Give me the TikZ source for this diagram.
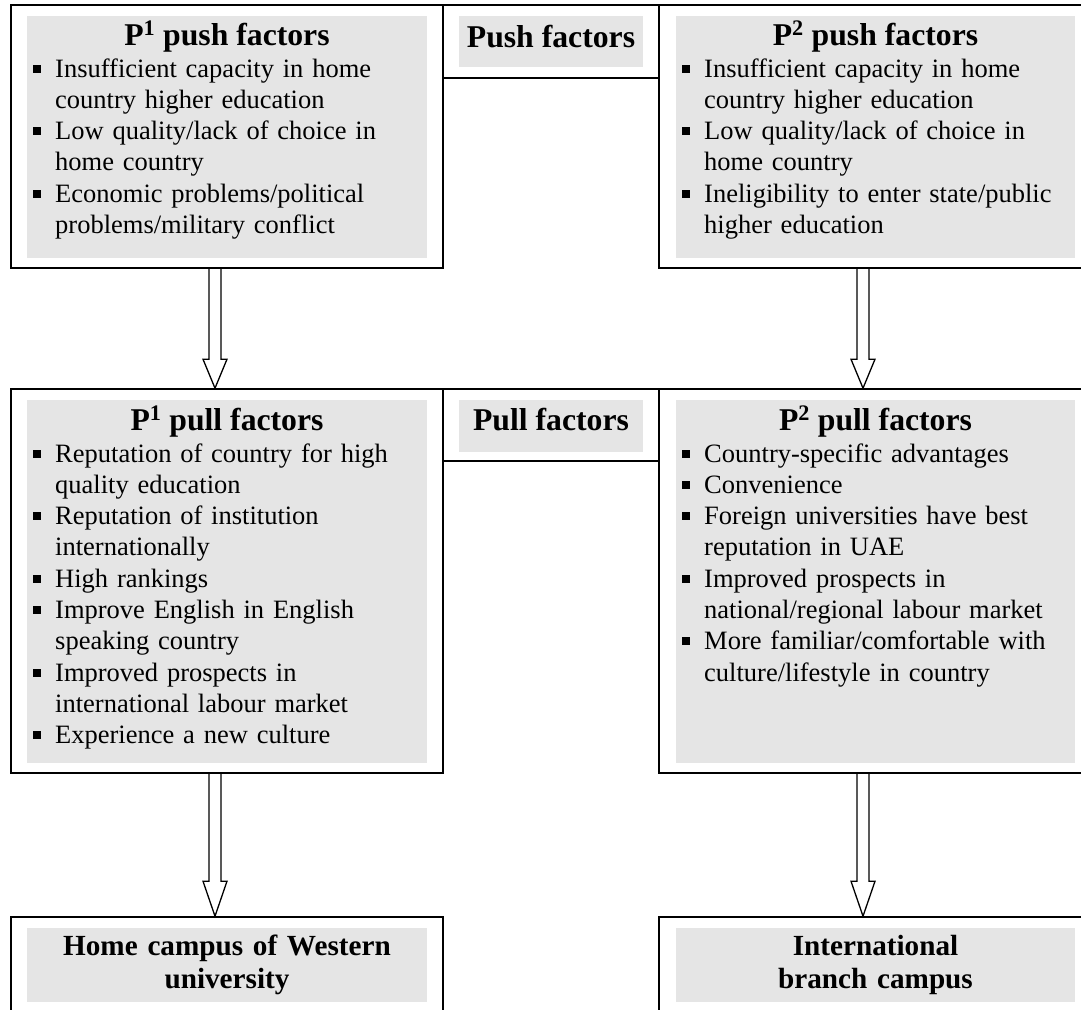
\documentclass[tikz,border=0pt]{standalone}
\usepackage{fontspec}
\setmainfont{Liberation Serif}
\usetikzlibrary{calc}
\definecolor{boxgray}{RGB}{229,229,229}
\newcommand\bul{\makebox[22pt][l]{\raisebox{4.5pt}{\rule{8pt}{8pt}}}}
\newcommand\ind{\hspace*{22pt}}
\newcommand\hollowarrow[3]{%
  \draw[arrowline] ($(#1)+(-6,0)$) -- ($(#2)+(-6,-#3)$) -- ($(#2)+(-12,-#3)$) -- (#2)
    -- ($(#2)+(12,-#3)$) -- ($(#2)+(6,-#3)$) -- ($(#1)+(6,0)$);}
\tikzset{
  outerbox/.style={draw=black, line width=1.6pt, rectangle, inner sep=0pt},
  graybox/.style={fill=boxgray, rectangle, inner sep=0pt},
  titletext/.style={anchor=base, inner sep=0pt, font=\fontsize{31.7}{36}\selectfont\bfseries},
  bodytext/.style={anchor=base west, inner sep=0pt, text width=390pt, align=left, font=\fontsize{26.5}{31.3}\selectfont},
  bottomtext/.style={anchor=base, inner sep=0pt, text width=400pt, align=center, font=\fontsize{29.2}{33}\selectfont\bfseries},
  arrowline/.style={draw=black, line width=1.3pt, line join=miter}
}
\begin{document}
\begin{tikzpicture}[x=1pt,y=-1pt]
\useasboundingbox (0,0) rectangle (1081,1009);
\clip (0,0) rectangle (1081,1009);
\fill[white] (0,0) rectangle (1081,1009);

% ---------- push row ----------
\node[outerbox, minimum width=432, minimum height=263] (push1) at (227,136.5) {};
\node[outerbox, minimum width=216, minimum height=73] (pushmid) at (551,41.5) {};
\node[outerbox, minimum width=433, minimum height=263] (push2) at (875.5,136.5) {};
\node[graybox, minimum width=400, minimum height=242] (push1g) at (227,137) {};
\node[graybox, minimum width=184, minimum height=51] (pushmidg) at (551,41.5) {};
\node[graybox, minimum width=399, minimum height=242] (push2g) at (875.5,137) {};

\node[titletext] (push1t) at (227,45) {P\textsuperscript{1} push factors};
\node[bodytext] (push1b) at (33,77) {\bul Insufficient capacity in home\\
\ind country higher education\\
\bul Low quality/lack of choice in\\
\ind home country\\
\bul Economic problems/political\\
\ind problems/military conflict};
\node[titletext] (pushmidt) at (551,47) {Push factors};
\node[titletext] (push2t) at (875.5,45) {P\textsuperscript{2} push factors};
\node[bodytext] (push2b) at (682,77) {\bul Insufficient capacity in home\\
\ind country higher education\\
\bul Low quality/lack of choice in\\
\ind home country\\
\bul Ineligibility to enter state/public\\
\ind higher education};

% ---------- pull row ----------
\node[outerbox, minimum width=432, minimum height=384] (pull1) at (227,581) {};
\node[outerbox, minimum width=216, minimum height=72] (pullmid) at (551,425) {};
\node[outerbox, minimum width=433, minimum height=384] (pull2) at (875.5,581) {};
\node[graybox, minimum width=400, minimum height=363] (pull1g) at (227,581.5) {};
\node[graybox, minimum width=184, minimum height=52] (pullmidg) at (551,426) {};
\node[graybox, minimum width=399, minimum height=363] (pull2g) at (875.5,581.5) {};

\node[titletext] (pull1t) at (227,430) {P\textsuperscript{1} pull factors};
\node[bodytext] (pull1b) at (33,462) {\bul Reputation of country for high\\
\ind quality education\\
\bul Reputation of institution\\
\ind internationally\\
\bul High rankings\\
\bul Improve English in English\\
\ind speaking country\\
\bul Improved prospects in\\
\ind international labour market\\
\bul Experience a new culture};
\node[titletext] (pullmidt) at (551,430) {Pull factors};
\node[titletext] (pull2t) at (875.5,430) {P\textsuperscript{2} pull factors};
\node[bodytext] (pull2b) at (682,462) {\bul Country-specific advantages\\
\bul Convenience\\
\bul Foreign universities have best\\
\ind reputation in UAE\\
\bul Improved prospects in\\
\ind national/regional labour market\\
\bul More familiar/comfortable with\\
\ind culture/lifestyle in country};

% ---------- bottom row ----------
\node[outerbox, minimum width=432, minimum height=96] (home) at (227,965) {};
\node[outerbox, minimum width=433, minimum height=96] (branch) at (875.5,965) {};
\node[graybox, minimum width=400, minimum height=74] (homeg) at (227,965) {};
\node[graybox, minimum width=399, minimum height=74] (branchg) at (875.5,965) {};
\node[bottomtext] (homet) at (227,955) {Home campus of Western\\ university};
\node[bottomtext] (brancht) at (875.5,955) {International\\ branch campus};

% ---------- arrows ----------
\coordinate (a1s) at ($(push1.south)+(-12,0)$);
\coordinate (a1e) at ($(pull1.north)+(-12,0)$);
\coordinate (a2s) at ($(push2.south)+(-12.5,0)$);
\coordinate (a2e) at ($(pull2.north)+(-12.5,0)$);
\coordinate (a3s) at ($(pull1.south)+(-12,0)$);
\coordinate (a3e) at ($(home.north)+(-12,0)$);
\coordinate (a4s) at ($(pull2.south)+(-12.5,0)$);
\coordinate (a4e) at ($(branch.north)+(-12.5,0)$);
\hollowarrow{a1s}{a1e}{29}
\hollowarrow{a2s}{a2e}{29}
\hollowarrow{a3s}{a3e}{35}
\hollowarrow{a4s}{a4e}{35}
\end{tikzpicture}
\end{document}
